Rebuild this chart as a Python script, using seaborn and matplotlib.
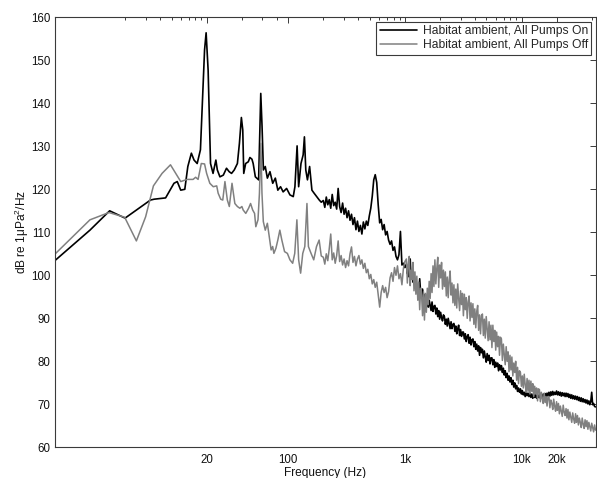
import numpy as np
import pandas as pd
import matplotlib
matplotlib.use("Agg")
import matplotlib.pyplot as plt
import seaborn as sns

# ---------------- data ----------------
# low-frequency part, explicit frequency / level pairs
on_low_freq = [1, 2, 2.95, 4.0, 6.6, 7.1, 8.9, 10.5, 11.2, 12.0,
               13.0, 13.8, 14.8, 15.6, 16.6, 17.7, 19.2, 19.8, 20.6, 21.6,
               22.7, 24.0, 24.7, 26.0, 27.8, 29.6, 31.2, 32.7, 34.5, 36.7,
               38.2, 39.7, 40.8, 41.6, 43.2, 45.5, 47.0, 48.9, 50.1, 52.3,
               55.8, 58.2, 59.7, 61.3, 63.6, 66.3, 69.8, 73.7, 77.6, 81.5,
               86.0, 90.5, 96.9, 103.5, 110.5, 114.2, 119.2, 122.9, 128.7, 134.3,
               137.7, 141.5, 146.2, 152.6, 159.7, 166.7, 175.7, 184.7, 192]
on_low_db = [103.4, 110.5, 115.0, 113.3, 117.5, 117.7, 118.0, 121.4, 121.8, 119.8,
             120.0, 125.3, 128.4, 126.8, 126.0, 129.2, 152.4, 156.4, 147.7, 126.0,
             123.7, 126.8, 124.5, 122.9, 123.3, 124.9, 124.1, 123.7, 124.5, 126.0,
             130.7, 136.7, 133.8, 123.7, 126.0, 126.4, 127.4, 127.0, 126.0, 122.9,
             122.2, 142.3, 134.6, 124.5, 125.3, 122.6, 124.1, 121.4, 122.6, 119.8,
             120.6, 119.4, 120.2, 118.7, 118.3, 120.6, 130.1, 120.6, 126.0, 128.0,
             132.2, 124.5, 122.2, 125.3, 119.8, 119.1, 118.3, 117.5, 117.0]

off_low_freq = [1, 2.0, 2.91, 3.97, 5.0, 6.0, 7.0, 8.3, 9.8, 12.0,
                13.6, 15.3, 16.1, 16.9, 18.0, 19.2, 20.0, 21.3, 22.8, 24.4,
                25.1, 26.4, 27.5, 28.7, 30.1, 31.3, 33.0, 34.9, 36.7, 38.5,
                40.1, 41.1, 43.3, 45.8, 47.6, 49.6, 51.5, 52.8, 55.1, 56.7,
                58.3, 59.6, 61.2, 63.6, 66.3, 68.8, 71.4, 73.6, 75.4, 78.5,
                81.5, 84.8, 88.2, 93.1, 98.4, 103.5, 109.2, 113.8, 118.7, 122.9,
                127.8, 133.3, 138.8, 144.8, 149.0, 157.0, 165.5, 174.9, 184.2, 192]
off_low_db = [104.9, 112.9, 114.6, 113.5, 108.0, 113.6, 120.8, 123.7, 125.7, 121.8,
              122.3, 122.3, 122.8, 122.3, 126.0, 125.9, 123.7, 121.4, 120.6, 120.8,
              119.1, 117.7, 117.5, 121.8, 117.5, 116.0, 121.4, 116.7, 116.0, 115.6,
              116.0, 115.2, 114.4, 115.6, 116.7, 115.2, 114.4, 111.3, 112.9, 119.1,
              130.7, 119.1, 112.5, 110.5, 112.1, 109.0, 105.9, 106.7, 105.1, 106.3,
              108.2, 110.5, 108.2, 105.5, 105.1, 103.6, 102.8, 105.1, 112.9, 103.6,
              100.5, 105.1, 106.7, 116.7, 106.7, 105.1, 103.6, 106.7, 108.2, 104.5]

# mid band 200 Hz .. 1 kHz, log-spaced bins
mid_f_start, mid_f_stop = 200, 1000
on_mid_db = [117.4, 115.8, 118.2, 116.4, 117.6, 115.6, 118.8, 116.2, 117.0, 115.4,
             120.2, 116.0, 114.6, 116.8, 114.2, 115.6, 113.4, 115.0, 112.8, 114.2,
             111.8, 113.4, 110.6, 112.6, 110.2, 111.6, 109.6, 112.4, 110.8, 112.6,
             111.6, 113.8, 115.6, 118.4, 122.2, 123.4, 121.6, 116.4, 112.2, 113.0,
             110.6, 111.8, 109.4, 110.2, 108.2, 107.2, 108.0, 105.8, 106.6, 104.4,
             103.6, 104.8, 110.2, 102.4, 102.8, 101.8]
off_mid_db = [104.2, 102.6, 105.0, 103.4, 106.2, 109.6, 103.6, 105.2, 102.8, 104.6,
              108.0, 103.2, 104.6, 102.4, 103.8, 101.8, 103.4, 102.2, 105.0, 106.6,
              103.0, 104.4, 102.2, 103.8, 104.6, 102.6, 103.6, 101.6, 102.8, 100.6,
              101.4, 99.2, 100.2, 98.0, 99.0, 97.2, 98.4, 95.6, 92.6, 96.0,
              97.6, 96.0, 97.2, 94.8, 96.2, 99.4, 100.6, 98.6, 101.8, 100.0,
              102.2, 99.2, 100.4, 97.8, 101.6, 103.2]

# high band 1.03 kHz .. 43 kHz, log-spaced bins
hi_f_start, hi_f_stop = 1030, 43000
on_hi_db = [102.6, 100.4, 101.8, 99.6, 103.8, 99.2, 100.6, 98.4, 99.8, 97.6,
            98.6, 96.4, 97.8, 95.6, 99.2, 96.0, 94.8, 96.8, 95.2, 94.4,
            95.6, 93.4, 94.8, 92.6, 94.2, 93.0, 91.8, 93.8, 91.6, 92.8,
            93.0, 91.0, 92.4, 90.4, 91.8, 89.8, 91.4, 90.2, 89.4, 90.8,
            90.4, 88.6, 89.8, 88.2, 90.0, 88.8, 87.6, 89.2, 87.6, 88.6,
            88.8, 87.0, 88.2, 86.4, 87.6, 88.4, 86.0, 87.4, 85.8, 86.8,
            86.8, 85.2, 86.4, 84.6, 85.8, 86.2, 84.2, 85.6, 83.8, 85.0,
            85.2, 83.4, 84.6, 82.8, 84.0, 82.4, 83.6, 81.4, 83.2, 82.0,
            82.8, 80.8, 82.4, 81.0, 79.8, 81.8, 80.2, 81.4, 79.4, 80.8,
            80.8, 79.2, 80.4, 78.6, 79.8, 78.8, 79.6, 77.8, 79.2, 78.0,
            79.0, 77.4, 78.4, 76.8, 77.8, 76.2, 77.2, 75.6, 76.6, 75.2,
            76.2, 74.6, 75.6, 74.0, 75.0, 73.6, 74.4, 73.0, 73.8, 72.8,
            73.6, 72.4, 73.2, 72.2, 72.8, 71.8, 72.8, 72.0, 72.6, 71.8,
            72.6, 71.6, 72.4, 71.4, 72.2, 71.6, 72.4, 71.4, 72.0, 71.6,
            72.3, 71.4, 72.2, 71.6, 72.4, 71.8, 72.5, 71.7, 72.6, 71.9,
            72.8, 71.9, 72.9, 72.1, 73.0, 72.2, 72.8, 72.3, 73.1, 72.2,
            72.9, 72.1, 72.8, 71.9, 72.7, 72.0, 72.6, 71.8, 72.6, 71.8,
            72.5, 71.6, 72.3, 71.4, 72.2, 71.3, 72.0, 71.2, 71.9, 71.1,
            71.8, 70.9, 71.6, 70.7, 71.5, 70.6, 71.3, 70.5, 71.1, 70.3,
            71.0, 70.1, 70.8, 69.9, 70.6, 72.8, 69.9, 70.2, 69.5, 69.4]
off_hi_db = [103.8, 98.2, 102.6, 104.4, 97.6, 101.2, 99.0, 103.0, 96.4, 100.8,
             95.6, 99.8, 94.2, 98.4, 92.0, 97.0, 95.4, 90.6, 96.2, 89.6,
             95.8, 91.4, 97.0, 93.2, 98.6, 94.6, 100.4, 96.0, 102.2, 97.4,
             103.6, 98.0, 101.6, 104.2, 97.2, 102.4, 99.4, 103.0, 96.8, 101.2,
             97.4, 100.8, 95.2, 99.6, 94.8, 98.8, 101.0, 95.4, 98.2, 93.6,
             97.8, 93.0, 96.8, 92.4, 98.0, 94.6, 91.8, 96.4, 93.2, 95.8,
             90.6, 95.6, 92.0, 94.8, 90.0, 93.8, 95.2, 89.4, 93.6, 90.2,
             93.4, 88.6, 92.2, 87.8, 91.6, 93.0, 87.2, 90.8, 86.4, 90.6,
             91.0, 86.0, 89.8, 85.4, 90.4, 87.6, 84.8, 89.2, 85.0, 88.4,
             83.2, 88.4, 84.6, 87.2, 82.6, 86.8, 83.4, 85.8, 81.4, 85.6,
             85.2, 80.2, 84.0, 81.6, 79.2, 83.4, 80.0, 82.2, 77.6, 81.4,
             78.0, 81.0, 76.6, 79.6, 77.4, 80.0, 75.6, 78.6, 74.8, 77.8,
             77.4, 74.2, 76.6, 73.8, 77.0, 74.6, 72.8, 76.0, 73.0, 75.6,
             72.4, 75.4, 73.0, 74.8, 71.8, 74.2, 72.4, 73.8, 70.8, 73.6,
             73.4, 70.6, 72.8, 71.4, 70.2, 72.6, 70.4, 71.8, 69.6, 71.8,
             71.8, 69.2, 71.0, 70.2, 68.8, 71.2, 69.6, 68.4, 70.6, 68.6,
             70.2, 67.8, 69.6, 68.4, 67.2, 69.8, 68.2, 67.4, 69.0, 66.8,
             68.8, 66.4, 68.2, 67.0, 65.8, 68.0, 66.6, 65.6, 67.8, 65.8,
             67.4, 65.2, 66.8, 65.8, 64.6, 66.8, 65.4, 64.4, 66.4, 64.8,
             66.2, 64.2, 65.8, 64.8, 63.8, 65.6, 64.6, 63.6, 65.2, 64.0]

series_labels = ["Habitat ambient, All Pumps On", "Habitat ambient, All Pumps Off"]
major_ticks = [20, 100, 1000, 10000, 20000]
major_labels = ["20", "100", "1k", "10k", "20k"]
minor_ticks = [4, 6, 8, 10, 12, 14, 16, 18, 40, 60, 80,
               200, 300, 400, 500, 600, 700, 800, 900,
               2000, 3000, 4000, 5000, 6000, 7000, 8000, 9000, 40000]
y_ticks = [60, 70, 80, 90, 100, 110, 120, 130, 140, 150, 160]

# ---------------- build tables ----------------
def spectrum(low_f, low_db, mid_db, hi_db):
    f = (list(low_f)
         + list(np.geomspace(mid_f_start, mid_f_stop, len(mid_db)))
         + list(np.geomspace(hi_f_start, hi_f_stop, len(hi_db))))
    v = list(low_db) + list(mid_db) + list(hi_db)
    return pd.DataFrame({"freq": f, "db": v})

df_on = spectrum(on_low_freq, on_low_db, on_mid_db, on_hi_db)
df_off = spectrum(off_low_freq, off_low_db, off_mid_db, off_hi_db)

# ---------------- style ----------------
sns.set_theme(style="white")
plt.rcParams["font.family"] = ["Liberation Sans", "DejaVu Sans"]
plt.rcParams["mathtext.fontset"] = "custom"
plt.rcParams["mathtext.rm"] = "Liberation Sans"
plt.rcParams["mathtext.it"] = "Liberation Sans:italic"

fig = plt.figure(figsize=(5.97, 4.78), dpi=100)
ax = fig.add_axes([0.0918, 0.0642, 0.9060, 0.8996])

sns.lineplot(data=df_on, x="freq", y="db", ax=ax, color="black", linewidth=1.2,
             estimator=None, sort=False, label=series_labels[0])
sns.lineplot(data=df_off, x="freq", y="db", ax=ax, color="#808080", linewidth=1.1,
             estimator=None, sort=False, label=series_labels[1])

ax.set_xscale("log")
ax.set_xlim(1, 43150)
ax.set_ylim(60, 160)

ax.set_xticks(major_ticks)
ax.set_xticklabels(major_labels)
ax.set_xticks(minor_ticks, minor=True)
ax.xaxis.set_minor_formatter(matplotlib.ticker.NullFormatter())
ax.set_yticks(y_ticks)
ax.set_yticklabels([str(t) for t in y_ticks])

spine_c = "#3a3a3a"
for s in ax.spines.values():
    s.set_visible(True)
    s.set_color(spine_c)
    s.set_linewidth(0.8)

ax.tick_params(axis="both", which="both", direction="in", top=True, right=True,
               color=spine_c, labelcolor="#111111", labelsize=8.3, width=0.7)
ax.tick_params(axis="x", which="major", length=4, pad=5)
ax.tick_params(axis="x", which="minor", length=2.5)
ax.tick_params(axis="y", which="major", length=4, pad=3)

ax.set_xlabel("Frequency (Hz)", fontsize=8.6, color="#111111", labelpad=0.5)
ax.set_ylabel("dB re 1μPa$^2$/Hz", fontsize=8.6, color="#111111", labelpad=0.5)

leg = ax.legend(loc="upper right", fontsize=8.7, frameon=True, fancybox=False,
                edgecolor=spine_c, framealpha=1, handlelength=3.1,
                handletextpad=0.45, borderaxespad=0.35, borderpad=0.3,
                labelspacing=0.15)
leg.get_frame().set_linewidth(0.8)

fig.savefig("out.png", dpi=100)
